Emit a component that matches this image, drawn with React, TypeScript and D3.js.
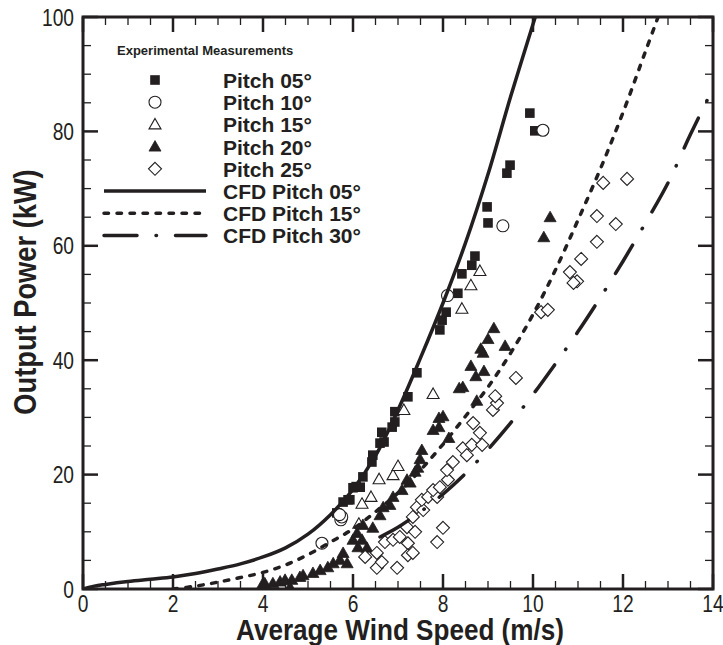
import React from 'react';
import * as d3 from 'd3';

// data: [wind speed m/s, output power kW]
const pitch05 = [[5.64,13.3],[5.78,15.2],[5.89,15.6],[5.93,15.6],[6.0,17.7],[6.07,17.9],[6.16,17.8],[6.22,19.6],[6.42,22.2],[6.44,23.4],[6.6,25.5],[6.69,25.7],[6.64,27.4],[6.87,28.3],[6.93,29.2],[6.93,31],[7.22,33.6],[7.42,37.8],[7.93,45.3],[7.98,47],[8.07,48.4],[8.33,51.7],[8.42,55.1],[8.64,56.6],[8.71,58.2],[8.98,66.8],[9.0,64],[9.42,72.7],[9.49,74.1],[9.93,83.2],[10.04,80.1]];
const pitch10 = [[5.31,8.0],[5.73,12.1],[5.75,12.6],[5.7,13.0],[8.1,51.3],[9.33,63.5],[10.22,80.2]];
const pitch15 = [[6.13,11.4],[6.2,14.9],[6.4,16.1],[6.58,19.2],[6.89,19.9],[7.0,21.5],[7.13,31.3],[7.78,34.1],[8.42,49],[8.62,53.1],[8.82,55.6]];
const pitch20 = [[3.98,0.7],[4.04,1.0],[4.22,1.0],[4.38,1.3],[4.49,1.6],[4.64,1.6],[4.6,0.3],[4.82,2.1],[4.89,2.4],[5.11,2.8],[5.27,3.3],[5.44,3.8],[5.56,4.5],[5.87,4.5],[5.71,5.1],[5.78,6.3],[6.0,8.6],[6.2,8.6],[6.11,7.3],[6.31,7.2],[6.09,9.8],[6.22,11.2],[6.44,10.7],[6.6,12.9],[6.67,14.3],[6.82,14.7],[6.89,16.1],[7.09,17.3],[7.2,19.1],[7.27,18.6],[7.38,20.5],[7.44,21.2],[7.49,22.7],[7.53,24.3],[7.78,27.8],[7.91,28.3],[8.0,30.2],[7.91,29.9],[8.13,26.4],[8.36,35.1],[8.44,35.3],[8.75,32.9],[8.62,39],[8.73,37.2],[8.91,38.1],[8.84,42],[8.89,41.3],[9.0,43.7],[9.13,45.6],[9.38,42.5],[10.24,61.5],[10.38,65]];
const pitch25 = [[6.27,5.6],[6.53,6.3],[6.53,3.7],[6.64,4.7],[6.71,8.2],[6.89,8.6],[6.98,3.7],[7.04,9.1],[7.2,10.8],[7.22,8.0],[7.22,5.9],[7.33,6.3],[7.33,12.6],[7.38,10],[7.42,14.3],[7.56,13.8],[7.53,15.6],[7.67,16.1],[7.87,16.1],[7.78,17.3],[7.93,17.8],[8.0,10.7],[7.87,8.2],[8.11,19.1],[8.09,20.8],[8.22,22.2],[8.44,24.6],[8.53,23.4],[8.64,25.2],[8.87,25.2],[8.82,27.3],[8.67,29],[9.11,31.3],[9.2,32.5],[9.16,33.7],[9.62,36.9],[10.18,48.4],[10.33,48.8],[10.82,55.4],[10.98,53.8],[10.9,53.5],[11.07,57.7],[11.42,60.7],[11.42,65.2],[11.84,63.8],[11.56,71],[12.09,71.7]];

const cfd05 = [[0,0],[0.25,0.5],[0.5,0.8],[1,1.3],[1.5,1.7],[2,2.1],[2.5,2.7],[3,3.5],[3.5,4.4],[4,5.6],[4.5,7.2],[5,9.6],[5.5,13],[6,17.4],[6.5,23.3],[7,31.3],[7.5,40.4],[8,50],[8.5,60.5],[9,72.5],[9.5,86],[10.05,100]];
const cfd15 = [[2.0,0],[2.5,0.5],[3,1.2],[3.5,2],[4,2.9],[4.5,4.2],[5,6],[5.5,8.2],[6,10.5],[6.5,13.5],[7,16.8],[7.5,20.8],[8,25.3],[8.5,30.2],[9,35.3],[9.5,41.2],[10,48],[10.5,55.8],[11,64.5],[11.5,73.5],[12,83.3],[12.5,94],[12.78,100]];
const cfd30 = [[6.6,9.1],[7,10.8],[7.5,13.5],[8,16.6],[8.5,20.2],[9,24.4],[9.5,29],[10,34],[10.5,39.4],[11,45],[11.5,51],[12,57.3],[12.5,64],[13,71],[13.5,79.5],[14,87.5]];

const xMajor = [0, 2, 4, 6, 8, 10, 12, 14];
const yMajor = [0, 20, 40, 60, 80, 100];

const markerLabels = ['Pitch 05°', 'Pitch 10°', 'Pitch 15°', 'Pitch 20°', 'Pitch 25°'];
const lineLabels = ['CFD Pitch 05°', 'CFD Pitch 15°', 'CFD Pitch 30°'];

const INK = '#231f20';
const W = 723, H = 645;
const sans = '"Liberation Sans", Arial, sans-serif';

const x = d3.scaleLinear().domain([0, 14]).range([83, 713]);
const y = d3.scaleLinear().domain([0, 100]).range([589, 17]);

const lineGen = d3.line<number[]>()
  .x(d => x(d[0]))
  .y(d => y(d[1]))
  .curve(d3.curveCatmullRom.alpha(0.5));

const lineStyles = [
  { dash: undefined, cap: 'butt' },
  { dash: '4.5 8.5', cap: 'round' },
  { dash: '33 19 0.5 19', cap: 'round' },
];

// marker drawing, centred at cx, cy
const Marker = ({ kind, cx, cy }: { kind: number; cx: number; cy: number }) => {
  if (kind === 0) return <rect x={cx - 4.8} y={cy - 4.8} width={9.6} height={9.6} fill={INK} />;
  if (kind === 1) return <circle cx={cx} cy={cy} r={6} fill="white" stroke={INK} strokeWidth={1.1} />;
  if (kind === 2 || kind === 3) {
    const p = `M${cx},${cy - 6}L${cx + 6},${cy + 4.5}L${cx - 6},${cy + 4.5}Z`;
    return kind === 2
      ? <path d={p} fill="white" stroke={INK} strokeWidth={1.1} />
      : <path d={p} fill={INK} stroke={INK} strokeWidth={0.8} />;
  }
  const p = `M${cx},${cy - 6.5}L${cx + 6.5},${cy}L${cx},${cy + 6.5}L${cx - 6.5},${cy}Z`;
  return <path d={p} fill="white" stroke={INK} strokeWidth={1.1} />;
};

const App = () => {
  const series = [pitch05, pitch10, pitch15, pitch20, pitch25];
  const curves = [cfd05, cfd15, cfd30];

  const xMinor = d3.range(0, 14.01, 0.5).filter(v => !xMajor.includes(v));
  const yMinor = d3.range(0, 100.01, 5).filter(v => !yMajor.includes(v));

  const x0 = x(0), x1 = x(14), y0 = y(0), y1 = y(100);

  return (
    <svg width={W} height={H} style={{ position: 'absolute', left: 0, top: 0, background: 'white' }}>
      <defs>
        <clipPath id="plot">
          <rect x={x0} y={y1} width={x1 - x0} height={y0 - y1} />
        </clipPath>
      </defs>

      {/* ticks, inward on all four sides */}
      <g stroke={INK}>
        {xMajor.map(v => (
          <g key={'xm' + v} strokeWidth={2.5}>
            <line x1={x(v)} x2={x(v)} y1={y0} y2={y0 - 15} />
            <line x1={x(v)} x2={x(v)} y1={y1} y2={y1 + 15} />
          </g>
        ))}
        {xMinor.map(v => (
          <g key={'xn' + v} strokeWidth={1.3}>
            <line x1={x(v)} x2={x(v)} y1={y0} y2={y0 - 8} />
            <line x1={x(v)} x2={x(v)} y1={y1} y2={y1 + 8} />
          </g>
        ))}
        {yMajor.map(v => (
          <g key={'ym' + v} strokeWidth={2.5}>
            <line x1={x0} x2={x0 + 15} y1={y(v)} y2={y(v)} />
            <line x1={x1} x2={x1 - 15} y1={y(v)} y2={y(v)} />
          </g>
        ))}
        {yMinor.map(v => (
          <g key={'yn' + v} strokeWidth={1.3}>
            <line x1={x0} x2={x0 + 8} y1={y(v)} y2={y(v)} />
            <line x1={x1} x2={x1 - 8} y1={y(v)} y2={y(v)} />
          </g>
        ))}
      </g>

      {/* tick labels, condensed like the original */}
      <g fontFamily={sans} fontSize={24} fill={INK}>
        {xMajor.map(v => (
          <text key={'xl' + v} transform={`translate(${x(v)},${y0 + 23}) scale(0.8,1)`} textAnchor="middle">{v}</text>
        ))}
        {yMajor.map(v => (
          <text key={'yl' + v} transform={`translate(${x0 - 9},${y(v) + 8.5}) scale(0.8,1)`} textAnchor="end">{v}</text>
        ))}
      </g>

      {/* axis titles */}
      <text transform="translate(400,640) scale(0.9,1)" textAnchor="middle" fontFamily={sans} fontWeight="bold" fontSize={29} fill={INK}>
        Average Wind Speed (m/s)
      </text>
      <text transform="translate(36,292) rotate(-90) scale(0.88,1)" textAnchor="middle" fontFamily={sans} fontWeight="bold" fontSize={31} fill={INK}>
        Output Power (kW)
      </text>

      {/* scatter */}
      <g clipPath="url(#plot)">
        {series.map((s, k) => (
          <g key={'s' + k}>
            {s.map((d, i) => <Marker key={i} kind={k} cx={x(d[0])} cy={y(d[1])} />)}
          </g>
        ))}
      </g>

      {/* CFD curves */}
      <g clipPath="url(#plot)">
        {curves.map((c, k) => (
          <path key={'c' + k} d={lineGen(c) || ''} fill="none" stroke={INK} strokeWidth={3.5}
            strokeDasharray={lineStyles[k].dash} strokeLinecap={lineStyles[k].cap as any} />
        ))}
      </g>

      {/* frame */}
      <rect x={x0} y={y1} width={x1 - x0} height={y0 - y1} fill="none" stroke={INK} strokeWidth={3} />

      {/* legend */}
      <text x={117} y={55} fontFamily={sans} fontWeight="bold" fontSize={13} fill={INK}>Experimental Measurements</text>
      {markerLabels.map((t, i) => (
        <g key={'lm' + i}>
          <Marker kind={i} cx={155} cy={80 + i * 22.2} />
          <text x={223} y={80 + i * 22.2 + 8} fontFamily={sans} fontWeight="bold" fontSize={21} fill={INK}>{t}</text>
        </g>
      ))}
      {lineLabels.map((t, i) => {
        const cy = 80 + (i + 5) * 22.2;
        return (
          <g key={'ll' + i}>
            <line x1={104} x2={206} y1={cy} y2={cy} stroke={INK} strokeWidth={3.5}
              strokeDasharray={lineStyles[i].dash} strokeLinecap={lineStyles[i].cap as any} />
            <text x={223} y={cy + 8} fontFamily={sans} fontWeight="bold" fontSize={21} fill={INK}>{t}</text>
          </g>
        );
      })}
    </svg>
  );
};

export default App;
